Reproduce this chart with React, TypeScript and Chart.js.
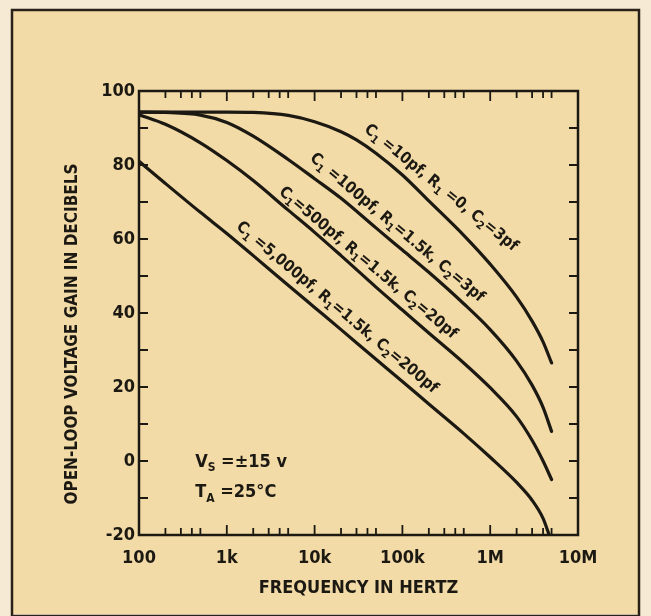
import React, { useEffect, useRef } from 'react';
import { Chart, registerables } from 'chart.js';

Chart.register(...registerables);

// ---- data ----
const freq10pf = [100, 200, 500, 1e3, 2e3, 5e3, 1e4, 2e4, 3e4, 5e4, 1e5, 2e5, 5e5, 1e6, 2e6, 3e6, 4e6, 5e6];
const gain10pf = [94.3, 94.3, 94.3, 94.3, 94.2, 93.4, 91.7, 89.0, 86.8, 83.2, 77.3, 70.3, 61, 53.2, 44.3, 37.8, 32.2, 26.5];
const freqHz = [100, 200, 500, 1e3, 2e3, 5e3, 1e4, 2e4, 5e4, 1e5, 2e5, 5e5, 1e6, 2e6, 3e6, 4e6, 5e6];
const gain100pf = [94.3, 94.2, 93.5, 91.5, 87.8, 81.5, 76.3, 71, 63, 57, 51, 42.5, 35.5, 27, 20.5, 14.5, 8];
const gain500pf = [93.6, 91, 86, 81.2, 75.8, 67.8, 61.8, 55.5, 47, 40.8, 34.6, 26.5, 19.8, 12, 5.6, 0, -5];
const freq5000pf = [100, 200, 500, 1e3, 2e3, 5e3, 1e4, 2e4, 5e4, 1e5, 2e5, 5e5, 1e6, 2e6, 3e6, 4e6, 4.7e6];
const gain5000pf = [81, 75, 67.2, 61.5, 55.5, 47.5, 41.5, 35.5, 27.5, 21.5, 15.4, 7.4, 1.0, -5.8, -10.6, -15.5, -20];

const seriesLabels = [
  'C_1 =10pf, R_1 =0, C_2=3pf',
  'C_1 =100pf, R_1=1.5k, C_2=3pf',
  'C_1=500pf, R_1=1.5k, C_2=20pf',
  'C_1 =5,000pf, R_1=1.5k, C_2=200pf',
];
const labelFreq = [275e3, 87e3, 40.5e3, 18e3];
const labelGain = [73.8, 63, 53.5, 41.4];
const labelAngleDeg = [39, 40, 40, 40];

const noteLines = ['V_S =\u00B115 v', 'T_A =25\u00B0C'];
const noteFreq = [436, 436];
const noteGain = [-0.3, -8.6];

const xTickValues = [100, 1e3, 1e4, 1e5, 1e6, 1e7];
const xTickLabels = ['100', '1k', '10k', '100k', '1M', '10M'];
const xMinorMultipliers = [2, 3, 4, 5];
const yMin = -20;
const yMax = 100;
const yLabelStep = 20;
const yTickStep = 10;

const xTitle = 'FREQUENCY IN HERTZ';
const yTitle = 'OPEN-LOOP VOLTAGE GAIN IN DECIBELS';

// ---- styles ----
const fontFamily = '"DejaVu Sans Condensed", "DejaVu Sans", sans-serif';
const ink = '#1c1912';
const paper = '#f3dba8';
const outerPaper = '#f6ead4';

function drawRich(ctx: CanvasRenderingContext2D, text: string, x: number, y: number, size: number, align: 'left' | 'center') {
  const segs: { t: string; sub: boolean }[] = [];
  for (let i = 0; i < text.length; i++) {
    if (text[i] === '_' && i + 1 < text.length) {
      segs.push({ t: text[i + 1], sub: true });
      i++;
    } else {
      const last = segs[segs.length - 1];
      if (last && !last.sub) last.t += text[i];
      else segs.push({ t: text[i], sub: false });
    }
  }
  const mainFont = `bold ${size}px ${fontFamily}`;
  const subFont = `bold ${Math.round(size * 0.68)}px ${fontFamily}`;
  let total = 0;
  for (const s of segs) {
    ctx.font = s.sub ? subFont : mainFont;
    total += ctx.measureText(s.t).width;
  }
  let cx = align === 'center' ? x - total / 2 : x;
  ctx.textAlign = 'left';
  ctx.textBaseline = 'middle';
  for (const s of segs) {
    ctx.font = s.sub ? subFont : mainFont;
    ctx.fillText(s.t, cx, y + (s.sub ? size * 0.32 : 0));
    cx += ctx.measureText(s.t).width;
  }
}

const decorPlugin = {
  id: 'decor',
  beforeDraw(chart: any) {
    const ctx = chart.ctx as CanvasRenderingContext2D;
    const w = chart.width;
    const h = chart.height;
    ctx.save();
    ctx.fillStyle = outerPaper;
    ctx.fillRect(0, 0, w, h);
    ctx.fillStyle = paper;
    ctx.fillRect(12, 10, w - 24, h - 12);
    ctx.strokeStyle = '#2a2119';
    ctx.lineWidth = 2.5;
    ctx.strokeRect(12, 10, w - 24, h - 10);
    ctx.restore();
  },
  afterDraw(chart: any) {
    const ctx = chart.ctx as CanvasRenderingContext2D;
    const xs = chart.scales.x;
    const ys = chart.scales.y;
    const { left, right, top, bottom } = chart.chartArea;
    ctx.save();
    ctx.strokeStyle = ink;
    ctx.lineWidth = 2.5;
    ctx.strokeRect(left, top, right - left, bottom - top);

    ctx.lineWidth = 1.8;
    ctx.beginPath();
    // y ticks (inward, both sides)
    for (let v = yMin + yTickStep; v < yMax; v += yTickStep) {
      const py = ys.getPixelForValue(v);
      ctx.moveTo(left, py);
      ctx.lineTo(left + 9, py);
      ctx.moveTo(right, py);
      ctx.lineTo(right - 9, py);
    }
    // x ticks (inward, top and bottom)
    for (let i = 0; i < xTickValues.length; i++) {
      const d = xTickValues[i];
      if (i > 0 && i < xTickValues.length - 1) {
        const px = xs.getPixelForValue(d);
        ctx.moveTo(px, bottom);
        ctx.lineTo(px, bottom - 10);
        ctx.moveTo(px, top);
        ctx.lineTo(px, top + 10);
      }
      if (i < xTickValues.length - 1) {
        for (const m of xMinorMultipliers) {
          const px = xs.getPixelForValue(d * m);
          ctx.moveTo(px, bottom);
          ctx.lineTo(px, bottom - 7);
          ctx.moveTo(px, top);
          ctx.lineTo(px, top + 7);
        }
      }
    }
    ctx.stroke();

    ctx.fillStyle = ink;
    // curve labels
    for (let i = 0; i < seriesLabels.length; i++) {
      const px = xs.getPixelForValue(labelFreq[i]);
      const py = ys.getPixelForValue(labelGain[i]);
      ctx.save();
      ctx.translate(px, py);
      ctx.rotate((labelAngleDeg[i] * Math.PI) / 180);
      drawRich(ctx, seriesLabels[i], 0, 0, 16, 'center');
      ctx.restore();
    }
    // notes
    for (let i = 0; i < noteLines.length; i++) {
      drawRich(ctx, noteLines[i], xs.getPixelForValue(noteFreq[i]), ys.getPixelForValue(noteGain[i]), 18, 'left');
    }
    // axis titles
    ctx.font = `bold 18px ${fontFamily}`;
    ctx.textAlign = 'center';
    ctx.textBaseline = 'middle';
    ctx.fillText(xTitle, (left + right) / 2, 588);
    ctx.save();
    ctx.translate(73, 334);
    ctx.rotate(-Math.PI / 2);
    ctx.font = `bold 17px ${fontFamily}`;
    ctx.fillText(yTitle, 0, 0);
    ctx.restore();
    ctx.restore();
  },
};

export default function App() {
  const canvasRef = useRef<HTMLCanvasElement | null>(null);

  useEffect(() => {
    const canvas = canvasRef.current;
    if (!canvas) return;
    const mk = (xsArr: number[], ysArr: number[]) => xsArr.map((x, i) => ({ x, y: ysArr[i] }));
    const lineStyle = {
      borderColor: ink,
      borderWidth: 3.2,
      borderCapStyle: 'round' as const,
      pointRadius: 0,
      fill: false,
      cubicInterpolationMode: 'monotone' as const,
    };
    const chart = new Chart(canvas, {
      type: 'line',
      data: {
        datasets: [
          { label: seriesLabels[0], data: mk(freq10pf, gain10pf), ...lineStyle },
          { label: seriesLabels[1], data: mk(freqHz, gain100pf), ...lineStyle },
          { label: seriesLabels[2], data: mk(freqHz, gain500pf), ...lineStyle },
          { label: seriesLabels[3], data: mk(freq5000pf, gain5000pf), ...lineStyle },
        ],
      },
      options: {
        animation: false,
        responsive: false,
        events: [],
        layout: { padding: { left: 0, right: 73, top: 91, bottom: 0 } },
        plugins: { legend: { display: false }, tooltip: { enabled: false } },
        scales: {
          x: {
            type: 'logarithmic',
            min: 100,
            max: 1e7,
            grid: { display: false, drawTicks: false },
            border: { display: false },
            ticks: {
              autoSkip: false,
              maxRotation: 0,
              padding: 13,
              color: ink,
              font: { family: fontFamily, size: 18, weight: 'bold' },
              callback: (v: any) => {
                const idx = xTickValues.indexOf(Number(v));
                return idx >= 0 ? xTickLabels[idx] : '';
              },
            },
            afterBuildTicks: (s: any) => {
              s.ticks = xTickValues.map((value) => ({ value }));
            },
            afterFit: (s: any) => {
              s.height = 81;
            },
          },
          y: {
            type: 'linear',
            min: yMin,
            max: yMax,
            grid: { display: false, drawTicks: false },
            border: { display: false },
            ticks: {
              stepSize: yLabelStep,
              padding: 4,
              color: ink,
              font: { family: fontFamily, size: 18, weight: 'bold' },
            },
            afterFit: (s: any) => {
              s.width = 139;
            },
          },
        },
      },
      plugins: [decorPlugin],
    });
    return () => chart.destroy();
  }, []);

  return (
    <div style={{ position: 'fixed', left: 0, top: 0, width: 651, height: 616 }}>
      <canvas ref={canvasRef} width={651} height={616} style={{ display: 'block' }} />
    </div>
  );
}
